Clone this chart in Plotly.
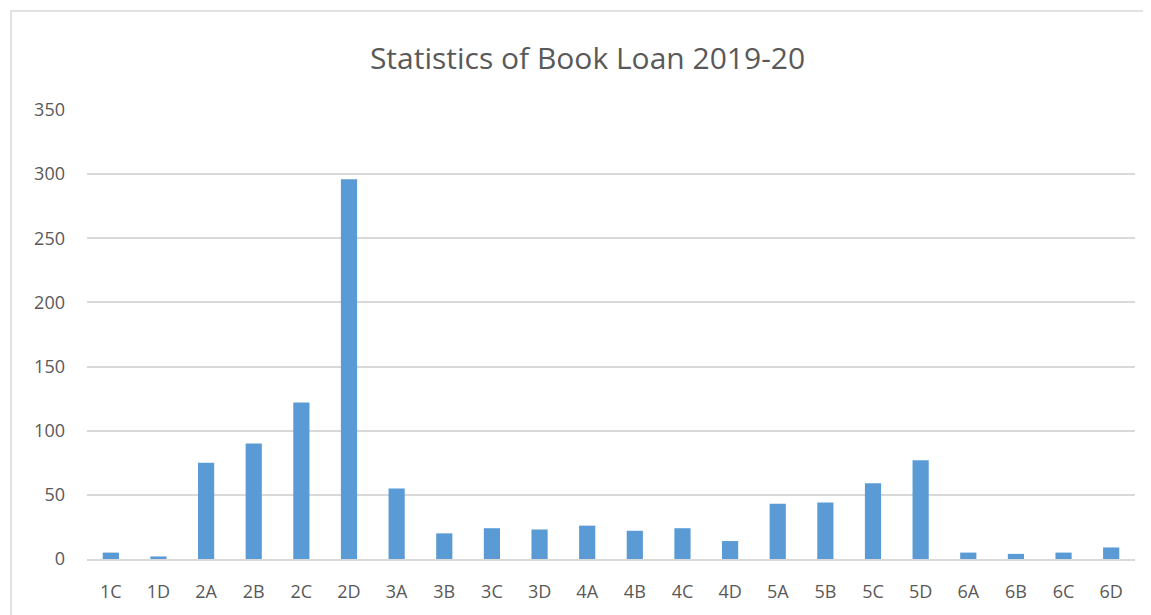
import plotly.graph_objects as go

categories = ["1C", "1D", "2A", "2B", "2C", "2D", "3A", "3B", "3C", "3D", "4A", "4B",
              "4C", "4D", "5A", "5B", "5C", "5D", "6A", "6B", "6C", "6D"]
loans = [5, 2, 75, 90, 122, 296, 55, 20, 24, 23, 26, 22, 24, 14, 43, 44, 59, 77, 5, 4, 5, 9]
y_ticks = [0, 50, 100, 150, 200, 250, 300, 350]

# page body has an 8px margin; figure coordinates are offset by it
OFF = 8
W, H = 1143, 607
L = 87 - OFF
T = 110 - OFF
R = W - (1135 - OFF)
B = H - (559.5 - OFF)
pw, ph = W - L - R, H - T - B

fig = go.Figure(go.Bar(x=categories, y=loans, marker=dict(color="#5b9bd5", line=dict(width=0))))

fig.update_layout(
    width=W, height=H,
    margin=dict(l=L, r=R, t=T, b=B),
    paper_bgcolor="white", plot_bgcolor="white",
    bargap=0.66,
    showlegend=False,
    font=dict(family="Open Sans, sans-serif", color="#595959", size=18),
    title=dict(text="Statistics of Book Loan 2019-20", x=(587.5 - OFF) / W, xanchor="center",
               y=1 - (58 - OFF) / H, yanchor="middle",
               font=dict(size=30, color="#595959")),
    xaxis=dict(showgrid=False, showline=True, linecolor="#d9d9d9", linewidth=1.5,
               ticks="", ticklabelstandoff=16, tickfont=dict(size=18, color="#595959")),
    yaxis=dict(range=[0, 350], tickvals=y_ticks, showgrid=True, gridcolor="#d9d9d9",
               gridwidth=1.5, zeroline=False, showline=False, ticks="",
               ticklabelstandoff=21, tickfont=dict(size=18, color="#595959")),
    shapes=[dict(type="rect", xref="paper", yref="paper",
                 x0=(11 - 87) / pw, x1=(W + 20 - L) / pw,
                 y0=-(B + 20) / ph, y1=(ph + T - 3) / ph,
                 line=dict(color="#d9d9d9", width=1.5), layer="below")],
)

fig.write_html("out.html")
